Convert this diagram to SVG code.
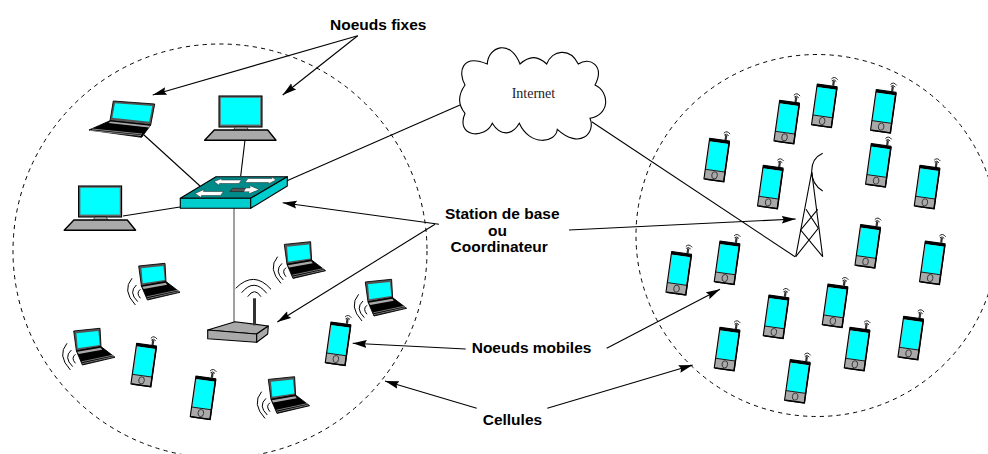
<svg xmlns="http://www.w3.org/2000/svg" width="988" height="454" viewBox="0 0 988 454">
<style>
.cell{fill:none;stroke:#000;stroke-width:1;stroke-dasharray:4.2 4.2}
.c line,.c path{fill:none;stroke:#000;stroke-width:1.100}
.lbl{font-family:"Liberation Sans",Arial,sans-serif;font-weight:bold;font-size:15.500px;fill:#000}
.wv{fill:none;stroke:#000;stroke-width:1}
.k{stroke:#000;stroke-width:1.100;stroke-linejoin:round}
.gr{fill:#a9a9a9}
.cy{fill:#00ffff}
.sw{fill:#fff;stroke:#222;stroke-width:.5}
</style>
<defs>
<marker id="ah" markerUnits="userSpaceOnUse" markerWidth="15" markerHeight="9" refX="14" refY="4.500" orient="auto"><path d="M0,.6L14,4.500L0,8.400L2,4.500Z" fill="#000"/></marker>
<g id="phone">
<path d="M6,-21V-26" stroke="#333" stroke-width="2.200" fill="none"/>
<path class="wv" d="M3.300,-27.500Q6,-31.200 9.700,-27.500M4,-25.700Q6,-28.200 8.500,-25.700" style="stroke-width:.8"/>
<rect class="k" x="-10" y="-20.500" width="20" height="41" fill="#a9a9a9" stroke-width="1.200"/>
<rect x="-10" y="-20.500" width="20" height="3" fill="#000"/>
<rect class="cy" x="-8.700" y="-17.500" width="17.400" height="28"/>
<path d="M-10,10.800H10" stroke="#000" stroke-width=".8"/>
<ellipse cx="0" cy="15.500" rx="2.800" ry="3.600" fill="none" stroke="#333" stroke-width=".9"/>
<path d="M10,-20V20.500H-9" fill="none" stroke="#000" stroke-width="1.500"/>
</g>
<g id="laptop">
<path d="M0,2.700L26.300,0L27.300,18.300L2.700,22.700Z" fill="#555" stroke="#000" stroke-width=".9"/>
<path class="cy" d="M2.700,5L24.700,2.700L26,16.700L4,20Z"/>
<path d="M2.700,22.700L27.300,18.300L41.300,29L8.700,36.700Z" fill="#000" stroke="#000" stroke-width=".9"/>
<path d="M3.500,23.500L27,19.500L28.500,21.500L5,25.700Z" fill="#a9a9a9"/>
<path d="M8,33.500L39.500,26.800M8.500,35.400L40,28.300" stroke="#a9a9a9" stroke-width=".7" fill="none"/>
<path class="wv" d="M-6.700,15Q-17,27 -3.300,41.700M-2.300,21.700Q-10.500,29 -1,38.300M1.700,26Q-3,29.500 1.700,35"/>
</g>
<g id="monitor">
<rect x="1" y="1" width="43" height="31" fill="#666" stroke="#000" stroke-width="1.100"/>
<rect x="2.800" y="2.800" width="39.400" height="26.800" class="cy"/>
<path d="M17.500,32H28.500L31,35.500H15Z" fill="#a9a9a9" stroke="#000" stroke-width=".6"/>
<path d="M-3.700,35H49.700L58,45.300H-13.400Z" fill="#a9a9a9" stroke="#000" stroke-width="1.400" stroke-linejoin="round"/>
</g>
</defs>

<g id="cells">
<circle class="cell" cx="220" cy="251" r="207"/>
<circle class="cell" cx="817" cy="235.500" r="181"/>
</g>

<g id="connectors" class="c">
<line x1="144" y1="135" x2="200" y2="186"/>
<line x1="245" y1="140" x2="240.700" y2="176"/>
<line x1="123" y1="216" x2="180" y2="207"/>
<line x1="287" y1="180.700" x2="460" y2="105"/>
<line x1="591.700" y1="121.700" x2="795" y2="256.700"/>
<line x1="234" y1="208" x2="234" y2="322" style="stroke:#808080;stroke-width:1.500"/>
<line x1="357.700" y1="35.700" x2="152.700" y2="95" marker-end="url(#ah)"/>
<line x1="357.700" y1="35.700" x2="282.700" y2="95" marker-end="url(#ah)"/>
<line x1="439" y1="224.300" x2="282.700" y2="202.700" marker-end="url(#ah)"/>
<line x1="435" y1="224.300" x2="277.300" y2="322" marker-end="url(#ah)"/>
<line x1="569" y1="230" x2="795.700" y2="219" marker-end="url(#ah)"/>
<line x1="465.700" y1="349" x2="352.700" y2="343.300" marker-end="url(#ah)"/>
<line x1="606.700" y1="348.300" x2="720" y2="289.300" marker-end="url(#ah)"/>
<line x1="476.700" y1="408.300" x2="385" y2="381" marker-end="url(#ah)"/>
<line x1="547.300" y1="408.300" x2="692.700" y2="365" marker-end="url(#ah)"/>
</g>

<g id="internet">
<path d="M465,85C458,73 461,53 487.300,64C488,47 510,38 520,64C530,55 538,56 546.700,64C552,50 570,47 578.300,64C590,56 605,66 595,85C610,92 610,115 590,118.300C596,133 580,150 557.300,129.300C556,143 530,147 519.300,123.300C512,136 500,136 492.300,123.300C485,140 455,137 465,113.300C458,105 458,95 465,85Z" fill="#fff" stroke="#000" stroke-width="1.100"/>
<text x="511.700" y="98.300" font-family="'Liberation Serif','Times New Roman',serif" font-size="14" fill="#222">Internet</text>
</g>

<g id="laptop-fixe">
<path d="M113.300,101L154.700,104L150.700,125L110,120.700Z" fill="#555" stroke="#000" stroke-width=".9"/>
<path class="cy" d="M115,103.300L152.300,106L149.300,121.700L112.300,117.700Z"/>
<path d="M110,120.700L150.700,125L141.700,137.300L89,130Z" fill="#000" stroke="#000" stroke-width=".9"/>
<path d="M110.500,121.500L150,125.700L149,127.500L108.500,123Z" fill="#a9a9a9"/>
<path d="M90,130.500L141,135.500M92,129L142,134" stroke="#a9a9a9" stroke-width=".8" fill="none"/>
</g>
<g id="monitor-1" transform="translate(218,95)"><use href="#monitor"/></g>
<g id="monitor-2" transform="translate(77.600,185)"><use href="#monitor"/></g>

<g id="switch">
<path class="k" d="M216,176.700H287.300L250.700,198.300H180.300Z" fill="#008b8b"/>
<path class="k" d="M180.300,198.300H250.700V208.300H180.300Z" fill="#00cdcd"/>
<path class="k" d="M250.700,198.300L287.300,176.700V186L250.700,208.300Z" fill="#00cdcd"/>
<path class="sw" d="M214,181.500L222,178.500L221.500,180H241.500L239,183.500H219.500L219.500,185.500Z"/>
<path class="sw" d="M248,178.500H272L271.500,176.800L276,180L268,184L268.500,182.500H245Z"/>
<path class="sw" d="M195,193.500L204,189.500L203.500,191.500H223.500L220.500,195.500H201.500L201,197.500Z"/>
<path d="M232,189L230,191.500H249.500V188.500H251.500V189Z" fill="#555" stroke="#222" stroke-width=".5"/>
<path d="M230,191.500L233,188.300H250.500L250,186L258.500,189.500L249,193.500L249.500,191.500Z" fill="#555" stroke="#222" stroke-width=".5"/>
<path d="M246,188.300H250.500L250,186L258.500,189.500L249,193.500L249.500,191.500H244Z" fill="#fff"/>
</g>

<g id="router">
<path class="k" d="M207.700,330L235,321.700L268.300,326L256.700,334Z" fill="#a9a9a9"/>
<path class="k" d="M207.700,330L256.700,334V342.300L207.700,338.700Z" fill="#a9a9a9"/>
<path class="k" d="M256.700,334L268.300,326L267.700,334L256.700,342.300Z" fill="#a9a9a9"/>
<rect x="253" y="298.300" width="3" height="27" fill="#333"/>
<path class="wv" d="M235.700,288.300Q254,270 271,289.300M241.700,292.700Q254,277.500 266.700,293.300M247.700,296.700Q254.500,286.700 261,296.700"/>
</g>

<g id="tower" fill="none" stroke="#000" stroke-width="1.100">
<path d="M795.700,256.700L811.700,172L822.700,256.700"/>
<path d="M806,209.300L818.300,228.300L795.700,256.700M817.700,209.300L800.700,230L822.700,256.700"/>
<path d="M822.700,153.300C808,160 808,182 822.700,191"/>
</g>

<g id="laptop-1" transform="translate(138.700,263.300)"><use href="#laptop"/></g>
<g id="laptop-2" transform="translate(284.300,241.700)"><use href="#laptop"/></g>
<g id="laptop-3" transform="translate(365.300,279.300)"><use href="#laptop"/></g>
<g id="laptop-4" transform="translate(73.700,328.300)"><use href="#laptop"/></g>
<g id="laptop-5" transform="translate(268.300,376.700)"><use href="#laptop"/></g>

<g id="phone-1" transform="translate(143.700,365) rotate(8)"><use href="#phone"/></g>
<g id="phone-2" transform="translate(203,397.700) rotate(8)"><use href="#phone"/></g>
<g id="phone-3" transform="translate(338,343.700) rotate(8)"><use href="#phone"/></g>
<g id="phone-4" transform="translate(716.700,160) rotate(8)"><use href="#phone"/></g>
<g id="phone-5" transform="translate(786.700,122) rotate(8)"><use href="#phone"/></g>
<g id="phone-6" transform="translate(824.300,105.700) rotate(8)"><use href="#phone"/></g>
<g id="phone-7" transform="translate(883.300,111.300) rotate(8)"><use href="#phone"/></g>
<g id="phone-8" transform="translate(878.300,165.300) rotate(8)"><use href="#phone"/></g>
<g id="phone-9" transform="translate(927,187) rotate(8)"><use href="#phone"/></g>
<g id="phone-10" transform="translate(770.300,187) rotate(8)"><use href="#phone"/></g>
<g id="phone-11" transform="translate(867.700,246.300) rotate(8)"><use href="#phone"/></g>
<g id="phone-12" transform="translate(932.300,262.700) rotate(8)"><use href="#phone"/></g>
<g id="phone-13" transform="translate(678.700,273.300) rotate(8)"><use href="#phone"/></g>
<g id="phone-14" transform="translate(727,262.700) rotate(8)"><use href="#phone"/></g>
<g id="phone-15" transform="translate(776,316.700) rotate(8)"><use href="#phone"/></g>
<g id="phone-16" transform="translate(835,305.700) rotate(8)"><use href="#phone"/></g>
<g id="phone-17" transform="translate(857,349) rotate(8)"><use href="#phone"/></g>
<g id="phone-18" transform="translate(910.700,338) rotate(8)"><use href="#phone"/></g>
<g id="phone-19" transform="translate(727,349) rotate(8)"><use href="#phone"/></g>
<g id="phone-20" transform="translate(797.300,381.300) rotate(8)"><use href="#phone"/></g>

<g id="labels">
<text class="lbl" x="330" y="30">Noeuds fixes</text>
<text class="lbl" x="445" y="219">Station de base</text>
<text class="lbl" x="488" y="235.500">ou</text>
<text class="lbl" x="450.500" y="251.700">Coordinateur</text>
<text class="lbl" x="471.700" y="353.300">Noeuds mobiles</text>
<text class="lbl" x="482.700" y="425">Cellules</text>
</g>
</svg>
